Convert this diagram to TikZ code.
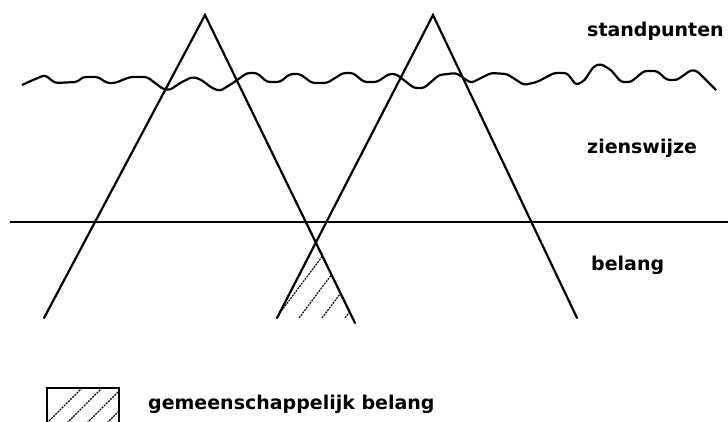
\documentclass[tikz,border=0pt]{standalone}
\usepackage{fontspec}
\setmainfont{DejaVu Sans}
\begin{document}
\begin{tikzpicture}[x=1pt,y=-1pt,
  leg/.style={line width=2.2pt,line cap=round},
  wave/.style={line width=2.2pt,rounded corners=3pt,line join=round},
  hatch/.style={line width=1.1pt,dash pattern=on 2pt off 1pt},
  lbl/.style={anchor=base west,inner sep=0pt,font=\bfseries\fontsize{19}{22}\selectfont}]
\useasboundingbox (0,0) rectangle (728,422);
\clip (0,0) rectangle (728,422);
% triangles
\coordinate (A1) at (205,15);
\coordinate (L1) at (44,318);
\coordinate (R1) at (355,323);
\coordinate (A2) at (433,15);
\coordinate (L2) at (277,318);
\coordinate (R2) at (577,318);
\coordinate (H1) at (10,222);
\coordinate (H2) at (728,222);
\draw[leg] (L1) -- (A1) -- (R1);
\draw[leg] (L2) -- (A2) -- (R2);
\draw[line width=2.2pt] (H1) -- (H2);
% hatched common region
\begin{scope}
  \clip (A1) -- (L1) -- (R1) -- cycle;
  \clip (A2) -- (L2) -- (R2) -- cycle;
  \foreach \x in {244,267,290,313,336,359} {
    \draw[hatch] (\x,330) -- ++(90,-120);
  }
\end{scope}
% wavy line
\draw[wave] (22,85) -- (33,80) -- (45,75) -- (55,83) -- (77,82) -- (83,77) -- (98,77) -- (107,83) -- (115,83) -- (130,77) -- (147,77) -- (163,89) -- (170,90) -- (180,83) -- (192,77) -- (200,79) -- (212,88) -- (220,91) -- (233,83) -- (247,73) -- (257,73) -- (267,82) -- (280,82) -- (290,74) -- (300,74) -- (312,83) -- (327,83) -- (343,73) -- (353,73) -- (364,82) -- (377,82) -- (389,74) -- (396,74) -- (414,88) -- (424,88) -- (439,75) -- (456,73) -- (471,83) -- (491,73) -- (507,74) -- (524,85) -- (537,82) -- (554,73) -- (567,73) -- (576,85) -- (584,81) -- (594,66) -- (601,64) -- (611,70) -- (621,82) -- (631,82) -- (644,71) -- (657,71) -- (667,80) -- (677,80) -- (691,70) -- (697,71) -- (716,90);
% labels
\node[lbl] (standpunten) at (587,37) {standpunten};
\node[lbl] (zienswijze) at (587,154) {zienswijze};
\node[lbl] (belang) at (591,270) {belang};
% legend
\coordinate (B1) at (47,388);
\coordinate (B2) at (119,440);
\begin{scope}
  \clip (B1) rectangle (B2);
  \foreach \x in {30,50,70,90,110,130} {
    \draw[hatch] (\x,440) -- ++(55,-55);
  }
\end{scope}
\draw[line width=2.2pt] (B1) rectangle (B2);
\node[lbl] (legend) at (148,409) {gemeenschappelijk belang};
\end{tikzpicture}
\end{document}
